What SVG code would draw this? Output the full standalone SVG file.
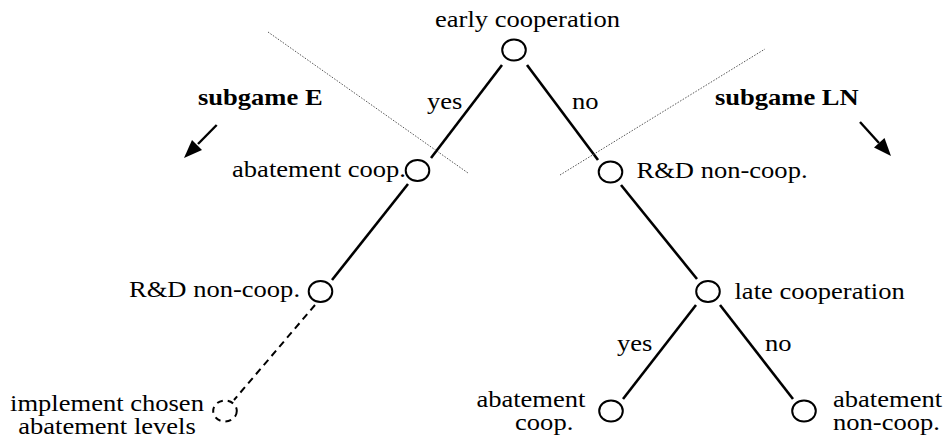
<svg xmlns="http://www.w3.org/2000/svg" width="947" height="448" viewBox="0 0 947 448">
<style>
text{font-family:"Liberation Serif","Times New Roman",serif;font-size:23.5px;fill:#000}
.b{font-weight:bold}
.node{fill:#fff;stroke:#000;stroke-width:2}
.dnode{fill:#fff;stroke:#000;stroke-width:2;stroke-dasharray:6 5}
.edge{stroke:#000;stroke-width:2.6;fill:none}
.dash{stroke:#000;stroke-width:2;stroke-dasharray:7 5;fill:none}
.sep{stroke:#555;stroke-width:1;stroke-dasharray:1.5 1.5;fill:none}
.arr{stroke:#000;stroke-width:2.4;fill:none}
.head{fill:#000;stroke:none}
</style>
<rect width="947" height="448" fill="#fff"/>
<g id="connectors">
<line class="edge" x1="502" y1="65" x2="431" y2="158"/>
<line class="edge" x1="527" y1="65" x2="598" y2="160"/>
<line class="edge" x1="408" y1="184" x2="332" y2="280"/>
<line class="dash" x1="315" y1="305" x2="234" y2="400"/>
<line class="edge" x1="621" y1="185" x2="697" y2="279"/>
<line class="edge" x1="696" y1="305" x2="623" y2="399"/>
<line class="edge" x1="720" y1="305" x2="793" y2="399"/>
<text transform="scale(1.13 1)" x="377.9" y="109">yes</text>
<text transform="scale(1.13 1)" x="506.2" y="109">no</text>
<text transform="scale(1.13 1)" x="546" y="351">yes</text>
<text transform="scale(1.13 1)" x="677" y="351">no</text>
</g>
<g id="subgames">
<line class="sep" x1="268" y1="32" x2="468" y2="173"/>
<line class="sep" x1="560" y1="175" x2="765" y2="49"/>
<text class="b" transform="scale(1.13 1)" x="175.2" y="105">subgame E</text>
<text class="b" transform="scale(1.13 1)" x="632.7" y="105">subgame LN</text>
<line class="arr" x1="216.7" y1="125" x2="198" y2="144"/>
<path class="head" d="M184,158 L202,150 L192,140 Z"/>
<line class="arr" x1="860" y1="122" x2="879" y2="143"/>
<path class="head" d="M891,156 L884.5,138 L874,147.5 Z"/>
</g>
<g id="n-early">
<ellipse class="node" cx="514" cy="50" rx="11.8" ry="10.5"/>
<text transform="scale(1.13 1)" x="385" y="27">early cooperation</text>
</g>
<g id="n-abate-E">
<ellipse class="node" cx="417.5" cy="170.5" rx="11.8" ry="10.5"/>
<text transform="scale(1.13 1)" x="359.3" y="177" text-anchor="end">abatement coop.</text>
</g>
<g id="n-rd-LN">
<ellipse class="node" cx="610.5" cy="172" rx="11.8" ry="10.5"/>
<text transform="scale(1.13 1)" x="563.3" y="178">R&amp;D non-coop.</text>
</g>
<g id="n-rd-E">
<ellipse class="node" cx="320.5" cy="291.5" rx="11.8" ry="10.5"/>
<text transform="scale(1.13 1)" x="265.5" y="297" text-anchor="end">R&amp;D non-coop.</text>
</g>
<g id="n-late">
<ellipse class="node" cx="708" cy="291.5" rx="11.8" ry="10.5"/>
<text transform="scale(1.13 1)" x="650" y="299">late cooperation</text>
</g>
<g id="n-implement">
<ellipse class="dnode" cx="225" cy="411" rx="11.8" ry="10.5"/>
<text transform="scale(1.13 1)" x="94.7" y="411" text-anchor="middle">implement chosen</text>
<text transform="scale(1.13 1)" x="94.7" y="434" text-anchor="middle">abatement levels</text>
</g>
<g id="n-abate-coop">
<ellipse class="node" cx="611" cy="411" rx="11.8" ry="10.5"/>
<text transform="scale(1.13 1)" x="518.1" y="407" text-anchor="end">abatement</text>
<text transform="scale(1.13 1)" x="455.8" y="430">coop.</text>
</g>
<g id="n-abate-noncoop">
<ellipse class="node" cx="804" cy="411" rx="11.8" ry="10.5"/>
<text transform="scale(1.13 1)" x="737.2" y="407">abatement</text>
<text transform="scale(1.13 1)" x="737.2" y="430">non-coop.</text>
</g>
</svg>
